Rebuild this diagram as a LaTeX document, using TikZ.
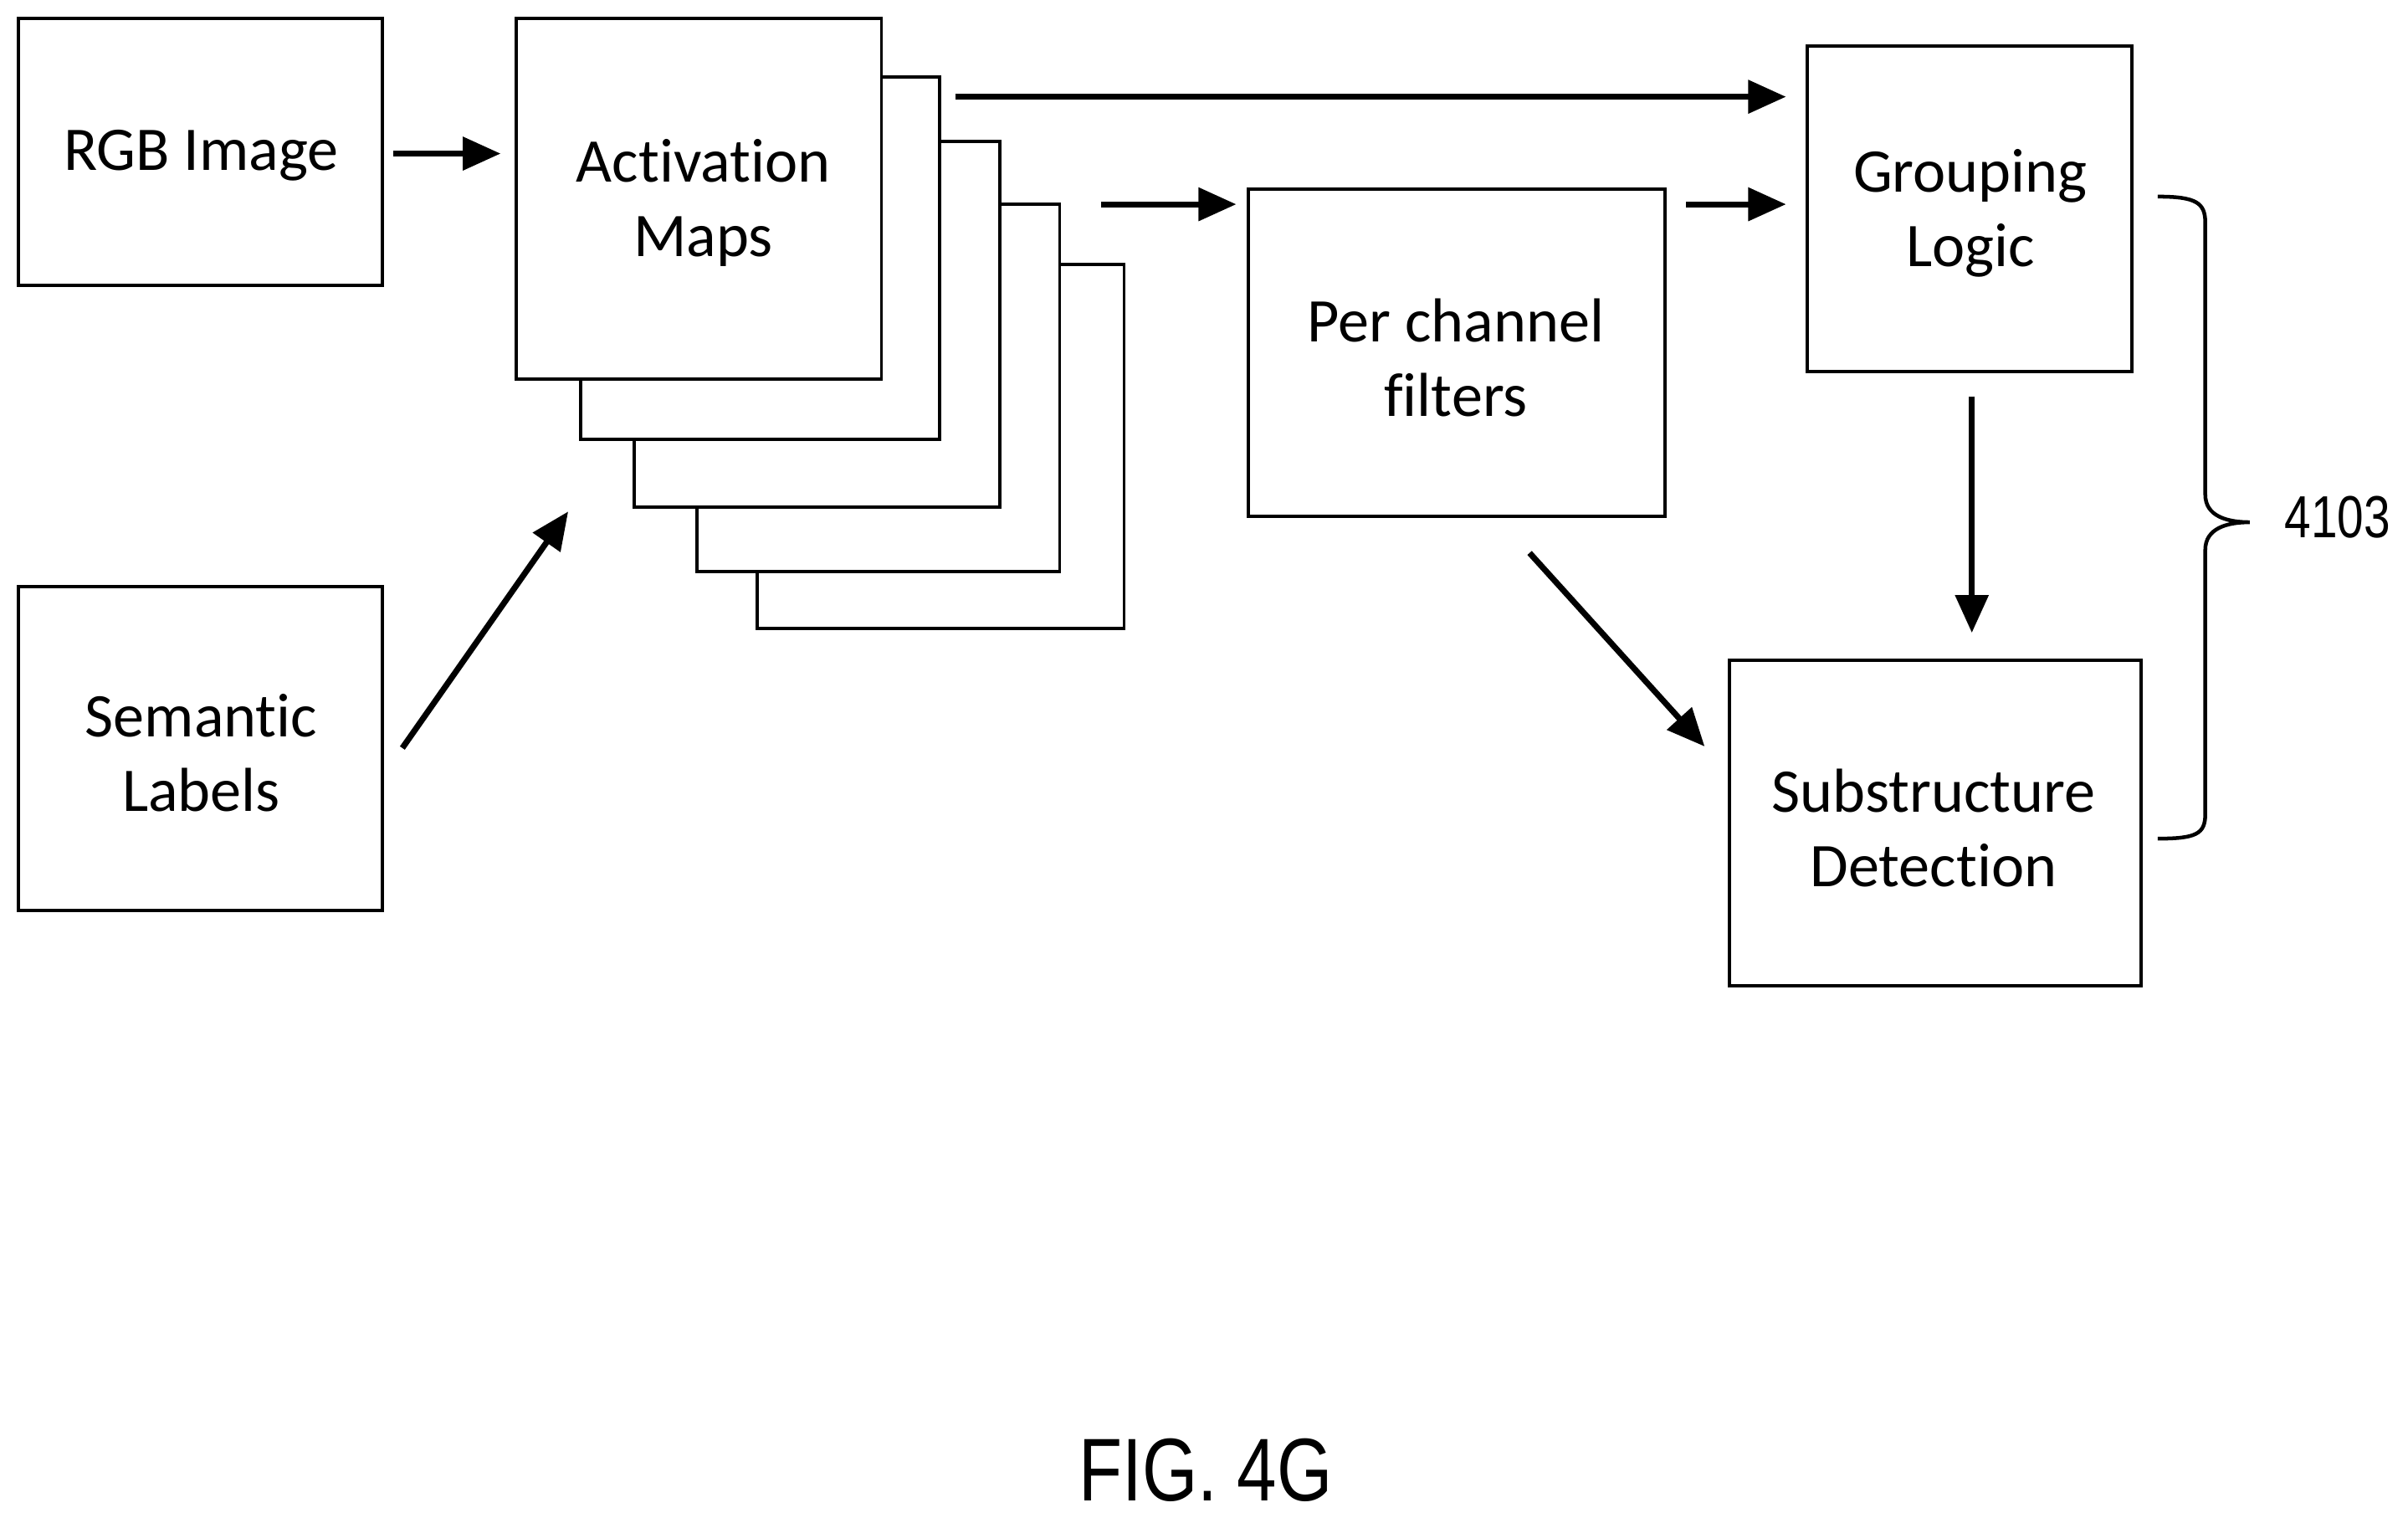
\documentclass[tikz,border=0pt]{standalone}
\usepackage{fontspec}
\setmainfont{Carlito}[Ligatures={NoCommon,NoRare,NoDiscretionary}]
\newfontfamily\figfont{Liberation Sans}[FakeStretch=0.8]
\usetikzlibrary{arrows.meta}
\begin{document}
\begin{tikzpicture}[x=0.01cm,y=-0.01cm,
 box/.style={draw,line width=0.6pt,fill=white},
 lbl/.style={font=\fontsize{11.5}{13.8}\selectfont,align=center},
 arr/.style={line width=1.1pt,-{Triangle[length=7pt,width=6pt]}}]
\useasboundingbox (0,0) rectangle (1568,988);
\draw[box] (493,172) rectangle (732,409);
\draw[box] (454,133) rectangle (690,372);
\draw[box] (413,92) rectangle (651,330);
\draw[box] (378,50) rectangle (612,286);
\draw[box] (336,12) rectangle (574,247);
\node[lbl] (am) at (458,132) {Activation\\Maps};
\draw[box] (12,12) rectangle (249,186); \node[lbl] (rgb) at (131,101) {RGB Image};
\draw[box] (12,382) rectangle (249,593); \node[lbl] (sem) at (131,490) {Semantic\\Labels};
\draw[box] (813,123) rectangle (1084,336); \node[lbl] (pcf) at (948,233) {Per channel\\filters};
\draw[box] (1177,30) rectangle (1388,242); \node[lbl] (gl) at (1283,139) {Grouping\\Logic};
\draw[box] (1126,430) rectangle (1394,642); \node[lbl] (sd) at (1259,539) {Substructure\\Detection};
\coordinate (a1) at (256,100); \coordinate (a2) at (326,100);
\coordinate (b1) at (262,487); \coordinate (b2) at (370,333);
\coordinate (c1) at (622,63); \coordinate (c2) at (1163,63);
\coordinate (d1) at (717,133); \coordinate (d2) at (805,133);
\coordinate (e1) at (1098,133); \coordinate (e2) at (1163,133);
\coordinate (f1) at (1284,258); \coordinate (f2) at (1284,412);
\coordinate (g1) at (996,360); \coordinate (g2) at (1110,486);
\foreach \s in {a,b,c,d,e,f,g} \draw[arr] (\s1) -- (\s2);
\draw[line width=0.7pt] (1405,128) .. controls (1430,128) and (1436,132) .. (1436,145)
 -- (1436,322) .. controls (1436,336) and (1450,340) .. (1465,340)
 .. controls (1450,340) and (1436,344) .. (1436,358) -- (1436,530)
 .. controls (1436,543) and (1430,546) .. (1405,546);
\node[font=\figfont\fontsize{11}{13}\selectfont,anchor=west,inner sep=0] (n) at (1487,337) {4103};
\node[font=\figfont\fontsize{16.5}{20}\selectfont] (fig) at (785,957) {FIG. 4G};
\end{tikzpicture}
\end{document}
